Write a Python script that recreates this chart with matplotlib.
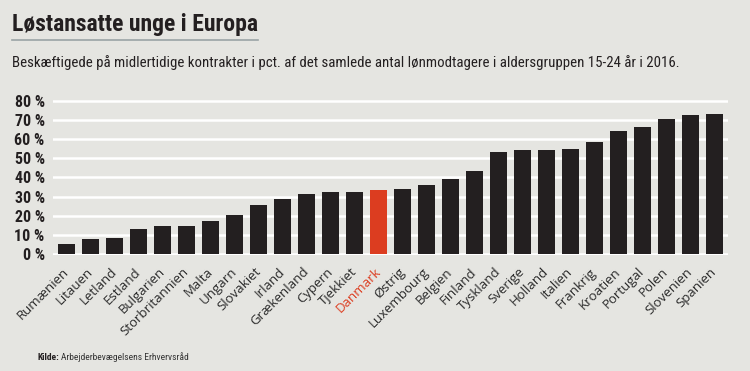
import matplotlib.pyplot as plt
import numpy as np

# -----------------------------
# Data
# -----------------------------
countries = ['Rumænien', 'Litauen', 'Letland', 'Estland', 'Bulgarien', 'Storbritannien',
             'Malta', 'Ungarn', 'Slovakiet', 'Irland', 'Grækenland', 'Cypern', 'Tjekkiet',
             'Danmark', 'Østrig', 'Luxembourg', 'Belgien', 'Finland', 'Tyskland', 'Sverige',
             'Holland', 'Italien', 'Frankrig', 'Kroatien', 'Portugal', 'Polen', 'Slovenien',
             'Spanien']
values = [5.4, 7.8, 8.3, 13.0, 14.4, 14.8, 17.4, 20.2, 25.5, 28.8, 31.2, 32.1, 32.3,
          33.6, 33.9, 36.1, 38.9, 43.5, 53.0, 54.1, 54.5, 54.6, 58.5, 64.2, 66.1, 70.7,
          72.6, 72.8]
yticks = [0, 10, 20, 30, 40, 50, 60, 70, 80]
highlight = 'Danmark'

# -----------------------------
# Style
# -----------------------------
bg = '#e5e5e1'
bar_col = '#231f20'
red = '#dc3d20'
cond = ['Roboto Condensed', 'Barlow Semi Condensed', 'Asap Condensed', 'DejaVu Sans']
plt.rcParams['font.family'] = ['Open Sans', 'DejaVu Sans']

fig = plt.figure(figsize=(7.5, 3.71), dpi=100, facecolor=bg)
W, H = 750, 371

# axes placement in pixels
x0, x1 = 53, 728
ylo, yhi = -0.3, 80.5
px_per = (254 - 100.7) / 80
ybot = 254 + 0.3 * px_per
ytop = 100.7 - 0.5 * px_per
ax = fig.add_axes([x0 / W, (H - ybot) / H, (x1 - x0) / W, (ybot - ytop) / H])
ax.set_facecolor(bg)

x = np.arange(len(countries))
colors = [red if c == highlight else bar_col for c in countries]

for y in yticks:
    ax.axhline(y, color='white', linewidth=1.8, zorder=1)
ax.bar(x, values, width=0.71, color=colors, zorder=2)

ax.set_xlim(-0.58, len(countries) - 1 + 0.57)
ax.set_ylim(ylo, yhi)
for s in ax.spines.values():
    s.set_visible(False)

ax.set_yticks(yticks)
ax.set_yticklabels([f'{v} %' for v in yticks], fontfamily=cond, fontweight='heavy',
                   fontsize=11.5, color='#231f20')
ax.tick_params(axis='y', length=0, pad=6)

ax.set_xticks(x)
ax.set_xticklabels(countries, rotation=45, ha='right', va='center',
                   rotation_mode='anchor', fontsize=9.5, color='#2a2a2a')
ax.tick_params(axis='x', length=0, pad=11)
for lab in ax.get_xticklabels():
    if lab.get_text() == highlight:
        lab.set_color(red)

# -----------------------------
# Titles and source
# -----------------------------
fig.text(12 / W, 1 - 25 / H, 'Løstansatte unge i Europa', fontfamily=cond,
         fontweight='bold', fontsize=17, color='#231f20', va='center', ha='left')
fig.add_artist(plt.Line2D([12 / W, 258 / W], [1 - 39.5 / H, 1 - 39.5 / H],
                          color='#9aa3a6', linewidth=1.2))
fig.text(12 / W, 1 - 63 / H,
         'Beskæftigede på midlertidige kontrakter i pct. af det samlede antal '
         'lønmodtagere i aldersgruppen 15-24 år i 2016.',
         fontfamily=cond, fontsize=10.7, color='#231f20', va='center', ha='left')

fig.text(38 / W, 1 - 357 / H, 'Kilde:', fontfamily=cond, fontweight='bold',
         fontsize=6.8, color='#231f20', va='center', ha='left')
fig.text(61 / W, 1 - 357 / H, 'Arbejderbevægelsens Erhvervsråd', fontfamily=cond,
         fontsize=6.8, color='#333333', va='center', ha='left')

fig.savefig('out.png', dpi=100, facecolor=bg)
